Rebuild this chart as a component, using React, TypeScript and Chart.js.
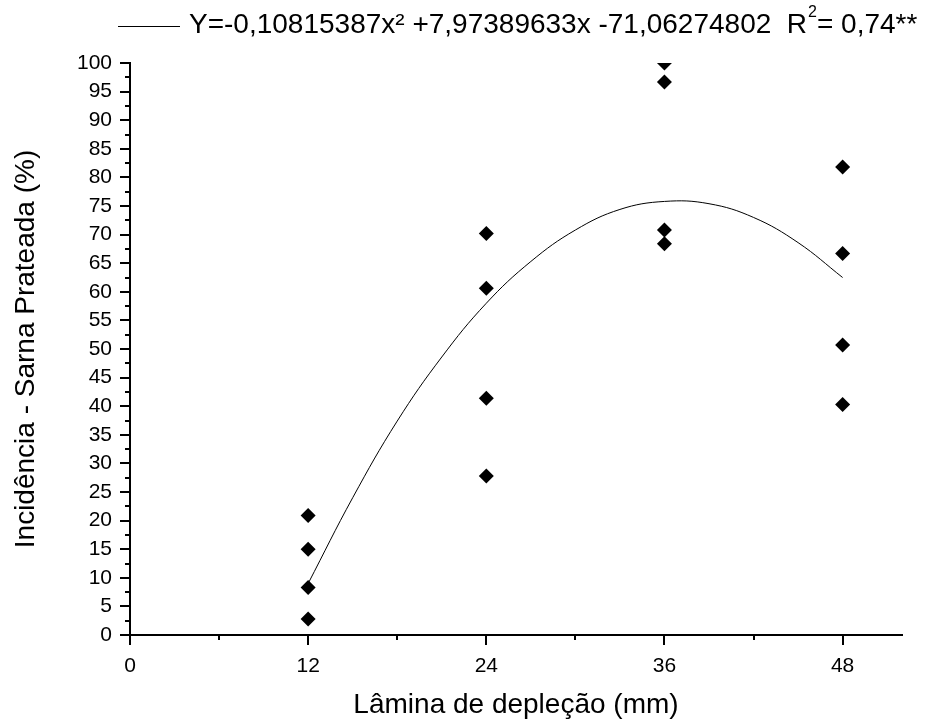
import React, { useEffect, useRef } from "react";
import { Chart, registerables } from "chart.js";

Chart.register(...registerables);

// Observed data (x = depletion depth, y = incidence %)
const obsX12: number[] = [20.9, 15.0, 8.3, 2.8];
const obsX24: number[] = [70.2, 60.6, 41.4, 27.8];
const obsX36: number[] = [100, 96.7, 70.8, 68.4];
const obsX48: number[] = [81.8, 66.7, 50.7, 40.3];
const depletionLevels: number[] = [12, 24, 36, 48];

// Fitted curve
const curveX: number[] = [12, 15, 18, 21, 24, 27, 30, 33, 36, 39, 42, 45, 48];
const curveY: number[] = [9.0, 24.0, 37.4, 48.6, 58.0, 65.3, 70.8, 74.4, 75.8, 75.4, 73.0, 68.6, 62.5];

const xTicks: number[] = [0, 12, 24, 36, 48];
const xMinorTicks: number[] = [6, 18, 30, 42];
const yMinorTicks: number[] = [2.5, 7.5, 12.5, 17.5, 22.5, 27.5, 32.5, 37.5, 42.5, 47.5, 52.5, 57.5, 62.5, 67.5, 72.5, 77.5, 82.5, 87.5, 92.5, 97.5];

const legendMain = "Y=-0,10815387x\u00B2 +7,97389633x -71,06274802  R";
const legendSup = "2";
const legendTail = "= 0,74**";
const yTitle = "Incidência - Sarna Prateada (%)";
const xTitle = "Lâmina de depleção (mm)";

const FONT = "'Liberation Sans', Arial, sans-serif";

export default function App() {
  const ref = useRef<HTMLCanvasElement | null>(null);

  useEffect(() => {
    if (!ref.current) return;
    const scatterPts: { x: number; y: number }[] = [];
    const groups = [obsX12, obsX24, obsX36, obsX48];
    groups.forEach((g, i) => g.forEach((v) => scatterPts.push({ x: depletionLevels[i], y: v })));
    const curvePts = curveX.map((x, i) => ({ x, y: curveY[i] }));

    const extras = {
      id: "extras",
      afterDraw(chart: any) {
        const ctx = chart.ctx as CanvasRenderingContext2D;
        const xs = chart.scales.x;
        const ys = chart.scales.y;
        const ca = chart.chartArea;
        ctx.save();
        ctx.strokeStyle = "#000";
        ctx.lineWidth = 2;
        ctx.beginPath();
        yMinorTicks.forEach((v) => {
          const py = Math.round(ys.getPixelForValue(v));
          ctx.moveTo(ca.left - 5, py);
          ctx.lineTo(ca.left, py);
        });
        xMinorTicks.forEach((v) => {
          const px = Math.round(xs.getPixelForValue(v));
          ctx.moveTo(px, ca.bottom);
          ctx.lineTo(px, ca.bottom + 5);
        });
        ctx.stroke();

        // legend
        ctx.lineWidth = 1;
        ctx.beginPath();
        ctx.moveTo(118, 26.5);
        ctx.lineTo(180, 26.5);
        ctx.stroke();
        ctx.fillStyle = "#000";
        ctx.textBaseline = "alphabetic";
        ctx.textAlign = "left";
        ctx.font = `28px ${FONT}`;
        let x = 189;
        const base = 33;
        ctx.fillText(legendMain, x, base);
        x += ctx.measureText(legendMain).width + 1;
        ctx.font = `16px ${FONT}`;
        ctx.fillText(legendSup, x, base - 16);
        x += ctx.measureText(legendSup).width;
        ctx.font = `28px ${FONT}`;
        ctx.fillText(legendTail, x, base);
        ctx.restore();
      },
    };

    const chart = new Chart(ref.current, {
      type: "scatter",
      data: {
        datasets: [
          {
            type: "line",
            data: curvePts,
            borderColor: "#000",
            borderWidth: 1,
            pointRadius: 0,
            fill: false,
            tension: 0.4,
          } as any,
          {
            data: scatterPts,
            pointStyle: "rectRot",
            pointRadius: 7.5,
            pointBackgroundColor: "#000",
            pointBorderWidth: 0,
            clip: 0,
          } as any,
        ],
      },
      options: {
        animation: false,
        responsive: false,
        layout: { padding: { top: 63, right: 23, left: 0, bottom: 0 } },
        plugins: { legend: { display: false }, tooltip: { enabled: false } },
        scales: {
          x: {
            type: "linear",
            min: 0,
            max: 52,
            afterBuildTicks: (s: any) => {
              s.ticks = xTicks.map((v) => ({ value: v }));
            },
            afterFit: (s: any) => {
              s.height = 87;
            },
            grid: { drawOnChartArea: false, drawTicks: true, tickLength: 10, color: "#000", lineWidth: 2 },
            border: { display: true, color: "#000", width: 2 },
            ticks: { color: "#000", font: { family: FONT, size: 21 }, padding: 9, maxRotation: 0 },
            title: { display: true, text: xTitle, color: "#000", font: { family: FONT, size: 28 }, padding: { top: 0, bottom: 0 } },
          },
          y: {
            type: "linear",
            min: 0,
            max: 100,
            afterFit: (s: any) => {
              s.width = 130;
            },
            grid: { drawOnChartArea: false, drawTicks: true, tickLength: 10, color: "#000", lineWidth: 2 },
            border: { display: true, color: "#000", width: 2 },
            ticks: { stepSize: 5, color: "#000", font: { family: FONT, size: 21 }, padding: 8 },
            title: { display: true, text: yTitle, color: "#000", font: { family: FONT, size: 28 }, padding: { top: 9, bottom: 0 } },
          },
        },
      },
      plugins: [extras],
    });
    return () => chart.destroy();
  }, []);

  return (
    <div style={{ position: "absolute", left: 0, top: 0, width: 925, height: 722, background: "#fff" }}>
      <canvas ref={ref} width={925} height={722} />
    </div>
  );
}
